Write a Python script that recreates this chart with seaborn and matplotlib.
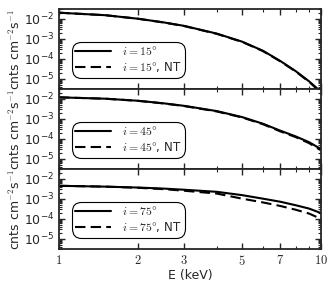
import matplotlib
matplotlib.use("Agg")
import matplotlib.pyplot as plt
import matplotlib.ticker as mticker
import seaborn as sns
import pandas as pd

# ---------------- datos ----------------
energia = [1, 1.5, 2, 2.5, 3, 4, 5, 6, 7, 8, 9, 10]
angulos = [15, 45, 75]

flujo_15 = [2.0e-2, 1.5e-2, 1.0e-2, 6.6e-3, 4.4e-3, 1.8e-3, 7.1e-4, 2.5e-4, 7.6e-5, 2.4e-5, 7.4e-6, 2.2e-6]
flujo_15_nt = [2.0e-2, 1.5e-2, 1.0e-2, 6.5e-3, 4.3e-3, 1.75e-3, 6.9e-4, 2.4e-4, 7.3e-5, 2.3e-5, 7.0e-6, 2.0e-6]
flujo_45 = [1.17e-2, 1.0e-2, 7.9e-3, 5.9e-3, 4.4e-3, 2.4e-3, 1.2e-3, 5.6e-4, 2.5e-4, 1.3e-4, 6.7e-5, 3.0e-5]
flujo_45_nt = [1.17e-2, 1.0e-2, 7.8e-3, 5.8e-3, 4.3e-3, 2.3e-3, 1.15e-3, 5.3e-4, 2.3e-4, 1.2e-4, 6.0e-5, 2.6e-5]
flujo_75 = [4.4e-3, 4.0e-3, 3.6e-3, 3.2e-3, 2.8e-3, 2.2e-3, 1.5e-3, 1.0e-3, 7.0e-4, 4.7e-4, 3.2e-4, 1.9e-4]
flujo_75_nt = [4.4e-3, 4.0e-3, 3.5e-3, 3.0e-3, 2.5e-3, 1.8e-3, 1.0e-3, 6.5e-4, 4.3e-4, 2.8e-4, 1.8e-4, 9.7e-5]

xticks = [1, 2, 3, 5, 7, 10]
xticklabels = ["$1$", "$2$", "$3$", "$5$", "$7$", "$10$"]

series = [(flujo_15, flujo_15_nt), (flujo_45, flujo_45_nt), (flujo_75, flujo_75_nt)]

# ---------------- estilo ----------------
sns.set_style("ticks")
plt.rcParams['font.family'] = ['DejaVu Sans']
plt.rcParams['mathtext.fontset'] = 'cm'
plt.rcParams['axes.linewidth'] = 1.3

fig, axes = plt.subplots(3, 1, figsize=(3.32, 2.87), dpi=100, sharex=True)
fig.subplots_adjust(left=0.178, right=0.967, top=0.968, bottom=0.132, hspace=0)

for ax, ang, (sol, nt) in zip(axes, angulos, series):
    df = pd.DataFrame({'E': energia, 'F': sol, 'F_nt': nt})
    sns.lineplot(data=df, x='E', y='F', ax=ax, color='black', lw=1.5,
                 label=r"$i = %d\degree$" % ang)
    sns.lineplot(data=df, x='E', y='F_nt', ax=ax, color='black', lw=1.5,
                 label=r"$i = %d\degree$, NT" % ang)
    ax.lines[1].set_dashes((5, 2.5))

    ax.set_xscale('log')
    ax.set_yscale('log')
    ax.set_xlim(1, 10)
    ax.set_ylim(3e-6, 3e-2)
    ax.set_yticks([1e-5, 1e-4, 1e-3, 1e-2])
    ax.yaxis.set_minor_locator(mticker.LogLocator(base=10, subs=range(2, 10), numticks=20))
    ax.yaxis.set_minor_formatter(mticker.NullFormatter())
    ax.set_xticks(xticks)
    ax.xaxis.set_minor_locator(mticker.FixedLocator([4, 6, 8, 9]))
    ax.xaxis.set_minor_formatter(mticker.NullFormatter())
    ax.tick_params(which='both', direction='in', top=True, right=True, labelsize=9)
    ax.tick_params(which='major', length=4, width=1)
    ax.tick_params(which='minor', length=2.5, width=0.8)
    ax.set_ylabel(r"cnts cm$^{-2}$s$^{-1}$", fontsize=9, labelpad=1)
    ax.set_xlabel('')

    leg = ax.legend(loc='lower left', bbox_to_anchor=(0.025, 0.07), fontsize=8.5,
                    handlelength=3.0, fancybox=True, framealpha=1,
                    borderpad=0.3, labelspacing=0.15, handletextpad=1.0)
    leg.get_frame().set_edgecolor('black')
    leg.get_frame().set_linewidth(0.8)
    leg.get_frame().set_boxstyle('round', pad=0, rounding_size=0.8)

axes[-1].set_xticklabels(xticklabels)
axes[-1].set_xlabel('E (keV)', fontsize=9, labelpad=1)

plt.savefig('out.png', dpi=100)
